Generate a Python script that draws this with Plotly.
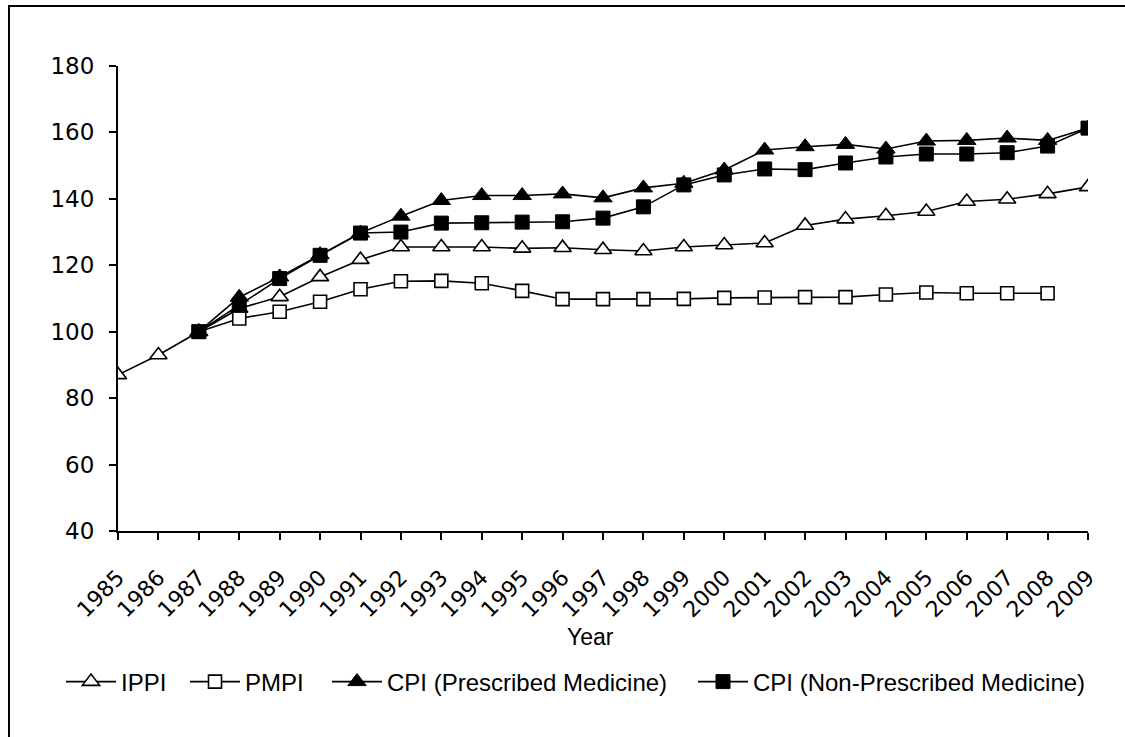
import plotly.graph_objects as go

years = list(range(1985, 2010))
ippi = [87, 93, 100, 107, 110.5, 116.5, 121.7, 125.5, 125.5, 125.5, 125.1, 125.3, 124.7, 124.3,
        125.5, 126.1, 126.7, 132, 133.9, 134.9, 136.2, 139.2, 139.9, 141.5, 143.6]
pmpi = [None, None, 100, 104, 106, 109, 112.8, 115.2, 115.3, 114.6, 112.3, 109.8, 109.8, 109.8,
        109.9, 110.2, 110.3, 110.4, 110.4, 111.2, 111.8, 111.6, 111.6, 111.6, None]
cpi_presc = [None, None, 100, 110.4, 116.5, 123.2, 129.7, 134.8, 139.5, 141.0, 141.0, 141.5, 140.3, 143.3,
             144.7, 148.7, 154.7, 155.7, 156.4, 155.0, 157.4, 157.6, 158.3, 157.6, 161.3]
cpi_nonpresc = [None, None, 100, 108, 116, 123, 129.7, 130, 132.7, 132.8, 133, 133.1, 134.2, 137.6,
                144.2, 147.2, 149, 148.8, 150.8, 152.6, 153.5, 153.5, 153.9, 155.9, 161.3]
tick_vals = [40, 60, 80, 100, 120, 140, 160, 180]

W, H = 1125, 737
L, R, T, B = 118, 37, 66, 206
pw, ph = W - L - R, H - T - B

def px_x(x):
    return (x - L) / pw

def px_y(y):
    return (H - B - y) / ph

fig = go.Figure()
line = dict(color="black", width=1.6)
fig.add_trace(go.Scatter(x=years, y=ippi, name="IPPI", mode="lines+markers", line=line, legend="legend",
                         marker=dict(symbol="triangle-up", size=15, color="white",
                                     line=dict(color="black", width=1.6))))
fig.add_trace(go.Scatter(x=years, y=pmpi, name="PMPI", mode="lines+markers", line=line, legend="legend2",
                         marker=dict(symbol="square", size=13, color="white",
                                     line=dict(color="black", width=1.6))))
fig.add_trace(go.Scatter(x=years, y=cpi_presc, name="CPI (Prescribed Medicine)", mode="lines+markers", line=line,
                         legend="legend3",
                         marker=dict(symbol="triangle-up", size=16, color="black",
                                     line=dict(color="black", width=1))))
fig.add_trace(go.Scatter(x=years, y=cpi_nonpresc, name="CPI (Non-Prescribed Medicine)", mode="lines+markers", line=line,
                         legend="legend4",
                         marker=dict(symbol="square", size=14, color="black",
                                     line=dict(color="black", width=1))))

legend_font = dict(family="Liberation Sans, Arial", size=24, color="black")

def leg(xpx):
    return dict(orientation="h", x=px_x(xpx), xanchor="left", y=px_y(682), yanchor="middle",
                font=legend_font, itemwidth=50, bgcolor="rgba(0,0,0,0)", borderwidth=0)

fig.update_layout(
    width=W, height=H,
    margin=dict(l=L, r=R, t=T, b=B),
    paper_bgcolor="white", plot_bgcolor="white",
    showlegend=True,
    legend=leg(61), legend2=leg(185), legend3=leg(327), legend4=leg(693),
    xaxis=dict(range=[1985, 2009], tickmode="array", tickvals=years, ticktext=[str(y) for y in years],
               tickangle=-45, ticks="outside", ticklen=7, tickwidth=2, tickcolor="black",
               showline=True, linecolor="black", linewidth=2, showgrid=False, zeroline=False,
               tickfont=dict(family="DejaVu Sans, Verdana", size=22, color="black"),
               ticklabelstandoff=16),
    yaxis=dict(range=[40, 180], tickmode="array", tickvals=tick_vals,
               ticks="outside", ticklen=7, tickwidth=2, tickcolor="black",
               showline=True, linecolor="black", linewidth=2, showgrid=False, zeroline=False,
               tickfont=dict(family="DejaVu Sans, Verdana", size=23, color="black"),
               ticklabelstandoff=10),
    annotations=[dict(text="Year", xref="paper", yref="paper", x=px_x(590), y=px_y(637),
                      xanchor="center", yanchor="middle", showarrow=False,
                      font=dict(family="Liberation Sans, Arial", size=23, color="black"))],
    shapes=[dict(type="rect", xref="paper", yref="paper",
                 x0=px_x(9), x1=px_x(W + 20),
                 y0=px_y(H + 20), y1=px_y(6),
                 line=dict(color="black", width=2), fillcolor="rgba(0,0,0,0)", layer="below")],
)

fig.write_html("out.html", config={"displayModeBar": False},
               post_script="document.body.style.margin='0px';")
